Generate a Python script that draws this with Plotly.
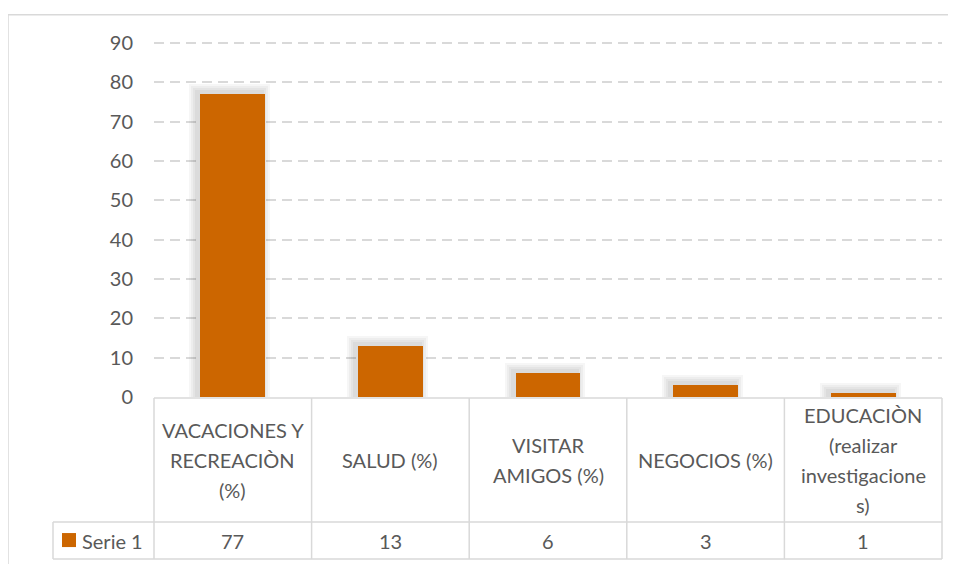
import plotly.graph_objects as go

# ---- data ----
categories = [
    "VACACIONES Y<br>RECREACIÒN<br>(%)",
    "SALUD (%)",
    "VISITAR<br>AMIGOS (%)",
    "NEGOCIOS (%)",
    "EDUCACIÒN<br>(realizar<br>investigacione<br>s)",
]
values = [77, 13, 6, 3, 1]
series_name = "Serie 1"
y_ticks = [0, 10, 20, 30, 40, 50, 60, 70, 80, 90]

# ---- layout constants (pixels, in screenshot coordinates) ----
OFF = 8  # page body margin
SW, SH = 956, 564
W, H = SW - OFF, SH - OFF
Y_MAX = 92
PX_PER_UNIT = (397 - 43) / 90
L, R, B = 154 - OFF, 942 - OFF, 397 - OFF
T = B - Y_MAX * PX_PER_UNIT
HEAD_BOTTOM = 522 - OFF
VAL_BOTTOM = 559 - OFF
LEG_LEFT = 53 - OFF
FRAME_X = 8 - OFF
FRAME_Y = 15 - OFF
BAR_COLOR = "#CC6600"
TEXT_COLOR = "#595959"
LINE_COLOR = "#D9D9D9"
FONT = "Lato, 'Open Sans', sans-serif"
FS = 20
LINE_STEP = 30
BAR_W = 0.41


def px(x):
    return (x - L) / (R - L)


def py(y):
    return (B - y) / (B - T)


n = len(categories)
xs = list(range(n))
col_w = (R - L) / n
unit_x = 1 / col_w            # x units per pixel
unit_y = 1 / PX_PER_UNIT      # y units per pixel

fig = go.Figure()
# soft shadow behind bars (up-left)
for e in (8, 6, 4, 2):
    fig.add_trace(go.Bar(
        x=xs, y=[v + (2 + e) * unit_y for v in values],
        width=BAR_W + 2 * e * unit_x, offset=-BAR_W / 2 - (3 + e) * unit_x,
        marker=dict(color="rgba(0,0,0,0.035)", line=dict(width=0)),
        showlegend=False, hoverinfo="skip",
    ))
fig.add_trace(go.Bar(
    x=xs, y=values, name=series_name,
    marker=dict(color=BAR_COLOR, line=dict(width=0)),
    width=BAR_W, offset=-BAR_W / 2, showlegend=False, hoverinfo="y",
))

shapes = []
line = dict(color=LINE_COLOR, width=1.5)
# outer frame (left and top)
shapes.append(dict(type="line", xref="paper", yref="paper", x0=px(FRAME_X), x1=px(FRAME_X), y0=py(FRAME_Y), y1=py(H + 5), line=line))
shapes.append(dict(type="line", xref="paper", yref="paper", x0=px(FRAME_X), x1=px(W + 5), y0=py(FRAME_Y), y1=py(FRAME_Y), line=line))
# table horizontal lines
shapes.append(dict(type="line", xref="paper", yref="paper", x0=px(L), x1=px(R), y0=py(B + 1), y1=py(B + 1), line=line))
for yy in (HEAD_BOTTOM, VAL_BOTTOM):
    shapes.append(dict(type="line", xref="paper", yref="paper", x0=px(LEG_LEFT), x1=px(R), y0=py(yy), y1=py(yy), line=line))
# table vertical lines
for i in range(n + 1):
    xx = L + i * col_w
    shapes.append(dict(type="line", xref="paper", yref="paper", x0=px(xx), x1=px(xx), y0=py(B + 1), y1=py(VAL_BOTTOM), line=line))
shapes.append(dict(type="line", xref="paper", yref="paper", x0=px(LEG_LEFT), x1=px(LEG_LEFT), y0=py(HEAD_BOTTOM), y1=py(VAL_BOTTOM), line=line))
# legend key
shapes.append(dict(type="rect", xref="paper", yref="paper", x0=px(62 - OFF), x1=px(76 - OFF), y0=py(533 - OFF), y1=py(547 - OFF),
                   fillcolor=BAR_COLOR, line=dict(width=0)))

annotations = []
head_mid = (B + HEAD_BOTTOM) / 2
val_mid = (HEAD_BOTTOM + VAL_BOTTOM) / 2
for i, (cat, v) in enumerate(zip(categories, values)):
    parts = cat.split("<br>")
    k = len(parts)
    for j, p in enumerate(parts):
        yc = head_mid + (j - (k - 1) / 2) * LINE_STEP
        annotations.append(dict(xref="x", yref="paper", x=i, y=py(yc), text=p, showarrow=False,
                                xanchor="center", yanchor="middle",
                                font=dict(family=FONT, size=FS, color=TEXT_COLOR)))
    annotations.append(dict(xref="x", yref="paper", x=i, y=py(val_mid), text=str(v), showarrow=False,
                            xanchor="center", yanchor="middle",
                            font=dict(family=FONT, size=FS, color=TEXT_COLOR)))
annotations.append(dict(xref="paper", yref="paper", x=px(80 - OFF), y=py(val_mid), text=series_name, showarrow=False,
                        xanchor="left", yanchor="middle",
                        font=dict(family=FONT, size=FS, color=TEXT_COLOR)))

fig.update_layout(
    width=W, height=H,
    margin=dict(l=L, r=W - R, t=T, b=H - B, pad=0),
    paper_bgcolor="white", plot_bgcolor="white",
    barmode="overlay", bargap=0,
    xaxis=dict(range=[-0.5, n - 0.5], showticklabels=False, showgrid=False, zeroline=False,
               showline=False, ticks="", fixedrange=True),
    yaxis=dict(range=[0, Y_MAX], tickvals=y_ticks, showgrid=True, gridcolor=LINE_COLOR, gridwidth=1.5,
               griddash="10px,6px", zeroline=False, showline=False, ticks="",
               ticklabelstandoff=20,
               tickfont=dict(family=FONT, size=FS, color=TEXT_COLOR)),
    shapes=shapes, annotations=annotations,
    font=dict(family=FONT, color=TEXT_COLOR),
)

fig.write_html("out.html")
